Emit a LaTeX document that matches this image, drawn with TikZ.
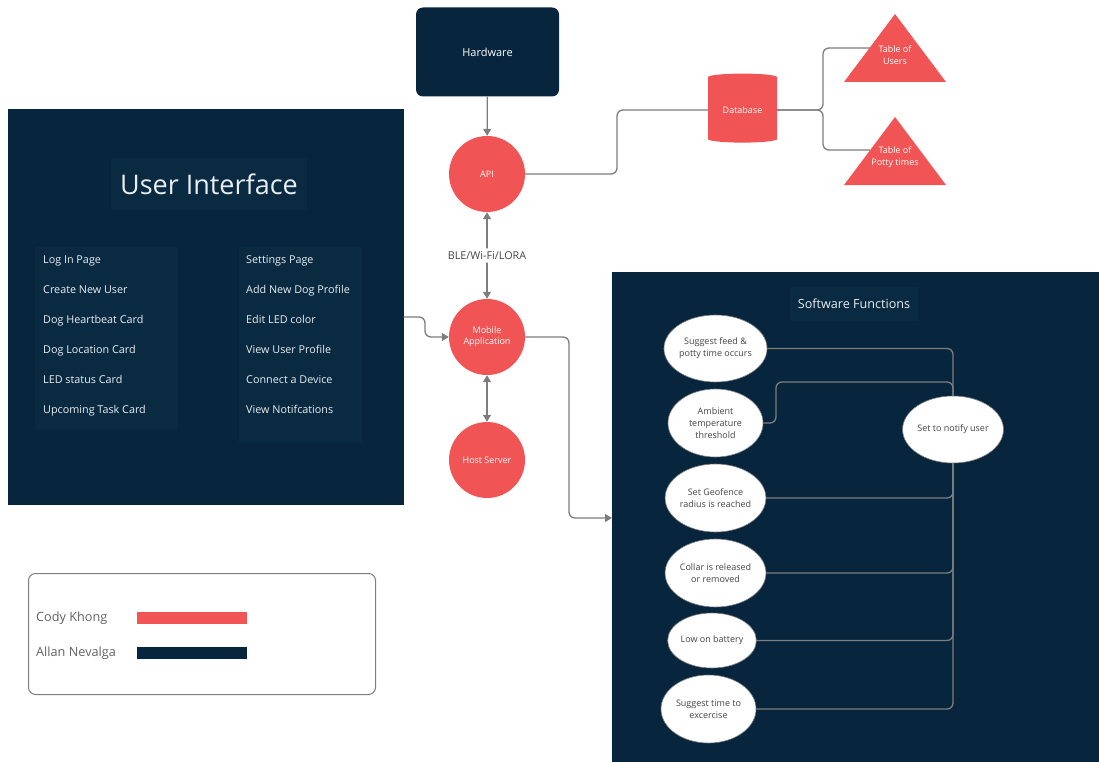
\documentclass[tikz,border=0pt]{standalone}
\usepackage{fontspec}
\setmainfont{Open Sans}
\usetikzlibrary{shapes.geometric,arrows.meta}

\definecolor{navy}{RGB}{7,38,61}
\definecolor{panel}{RGB}{10,42,66}
\definecolor{coral}{RGB}{240,84,84}
\definecolor{linegray}{RGB}{125,125,125}
\definecolor{inkgray}{RGB}{70,70,70}
\definecolor{uitext}{RGB}{232,238,242}

\tikzset{
  wire/.style={line width=1.3, color=linegray, rounded corners=6},
  flow/.style={wire, -{Triangle[length=7pt,width=8pt]}},
  twoway/.style={wire, {Triangle[length=7pt,width=8pt]}-{Triangle[length=7pt,width=8pt]}},
  hub/.style={circle, fill=coral, minimum size=76, inner sep=0, text=white, align=center, font=\fontsize{9pt}{11pt}\selectfont},
  uiitem/.style={anchor=west, text=uitext, inner sep=0, text height=8pt, text depth=2.5pt, font=\fontsize{10.8pt}{10.8pt}\selectfont},
  event/.style={ellipse, fill=white, draw=linegray, line width=0.6, inner sep=0, text=inkgray, align=center, font=\fontsize{9pt}{12pt}\selectfont},
  legendtext/.style={anchor=west, inner sep=0, text height=9pt, text depth=3pt, text=inkgray!85, font=\fontsize{12.7pt}{12.7pt}\selectfont}
}

\begin{document}
\begin{tikzpicture}[x=1pt,y=-1pt]
\useasboundingbox (0,0) rectangle (1099,762);

% hardware on top
\node (hw) [rounded corners=7, fill=navy, minimum width=143, minimum height=89, text=white, font=\fontsize{11pt}{11pt}\selectfont] at (487.5,52) {Hardware};

% the three red circles
\node (api) [hub] at (487,174) {API};
\node (mobile) [hub] at (487,337) {Mobile\\Application};
\node (host) [hub] at (487,460) {Host Server};

% database
\node (db) [cylinder, shape border rotate=90, aspect=0.18, fill=coral, minimum width=69, minimum height=69, inner sep=0, text=white, font=\fontsize{9pt}{9pt}\selectfont] at (742.5,110) {Database};

% tables
\fill [coral] (895,14) -- (946,82) -- (844,82) -- cycle;
\node (users) [text=white, align=center, font=\fontsize{9pt}{12pt}\selectfont] at (895,55) {Table of\\Users};
\coordinate (usersin) at (870,48);
\fill [coral] (895,117) -- (946,185) -- (844,185) -- cycle;
\node (potty) [text=white, align=center, font=\fontsize{9pt}{12pt}\selectfont] at (895,157) {Table of\\Potty times};
\coordinate (pottyin) at (870,150);

% user interface panel
\node (ui) [fill=navy, minimum width=396, minimum height=396, inner sep=0] at (205.5,307) {};
\node (uititle) [fill=panel, minimum width=196, minimum height=52, text=uitext, font=\fontsize{27pt}{27pt}\selectfont] at (209,184) {User Interface};
\fill [panel] (35,247) rectangle (178,430);
\fill [panel] (239,247) rectangle (362,443);
\node (login) [uiitem] at (43,261) {Log In Page};
\node (newuser) [uiitem] at (43,291) {Create New User};
\node (heart) [uiitem] at (43,321) {Dog Heartbeat Card};
\node (location) [uiitem] at (43,351) {Dog Location Card};
\node (ledstatus) [uiitem] at (43,381) {LED status Card};
\node (tasks) [uiitem] at (43,411) {Upcoming Task Card};
\node (settings) [uiitem] at (246,261) {Settings Page};
\node (newdog) [uiitem] at (246,291) {Add New Dog Profile};
\node (ledcolor) [uiitem] at (246,321) {Edit LED color};
\node (profile) [uiitem] at (246,351) {View User Profile};
\node (device) [uiitem] at (246,381) {Connect a Device};
\node (notices) [uiitem] at (246,411) {View Notifcations};

% software functions panel
\node (sf) [fill=navy, minimum width=487, minimum height=490, inner sep=0, anchor=north west] at (612,272) {};
\node (sftitle) [fill=panel, minimum width=128, minimum height=34, text=uitext, font=\fontsize{12.6pt}{12.6pt}\selectfont] at (854,304) {Software Functions};
\node (feed) [event, minimum width=95, minimum height=67] at (715.5,348.5) {Suggest feed \&\\potty time occurs};
\node (temp) [event, minimum width=95, minimum height=68] at (715.5,423) {Ambient\\temperature\\threshold};
\node (fence) [event, minimum width=95, minimum height=68] at (715.5,498) {Set Geofence\\radius is reached};
\node (collar) [event, minimum width=95, minimum height=68] at (715.5,573) {Collar is released\\or removed};
\node (battery) [event, minimum width=88, minimum height=55] at (712,640.5) {Low on battery};
\node (exercise) [event, minimum width=95, minimum height=68] at (708.5,709) {Suggest time to\\excercise};
\node (notify) [event, minimum width=94, minimum height=67] at (953,429.5) {Set to notify user};

% connectors
\draw [flow] (hw) -- (api);
\draw [twoway] (api) -- node [fill=white, text=inkgray, inner sep=3, font=\fontsize{10.8pt}{10.8pt}\selectfont] {BLE/Wi-Fi/LORA} (mobile);
\draw [twoway] (mobile) -- (host);
\draw [flow] (ui.east |- 0,317) -- (425,317) |- (mobile.west);
\draw [flow] (mobile.east) -- (569,337) |- (sf.west |- 0,518);
\draw [wire] (api.east) -- (617,174) |- (db.west);
\draw [wire] (db.east) -- (823,110) |- (usersin);
\draw [wire] (db.east) -- (823,110) |- (pottyin);
\draw [wire] (feed.east) -| (notify.north);
\draw [wire] (temp.east) -- (776,423) |- (notify.north |- 0,382) -- (notify.north);
\draw [wire] (fence.east) -| (notify.south);
\draw [wire] (collar.east) -| (notify.south);
\draw [wire] (battery.east) -| (notify.south);
\draw [wire] (exercise.east) -| (notify.south);

% legend
\node (legend) [draw=linegray, line width=1, rounded corners=7, minimum width=347, minimum height=121, inner sep=0] at (202,634) {};
\node (cody) [legendtext] at (36,618) {Cody Khong};
\node (allan) [legendtext] at (36,653) {Allan Nevalga};
\node (codybar) [fill=coral, minimum width=110, minimum height=12, inner sep=0] at (192,618) {};
\node (allanbar) [fill=navy, minimum width=110, minimum height=12, inner sep=0] at (192,653) {};
\end{tikzpicture}
\end{document}
